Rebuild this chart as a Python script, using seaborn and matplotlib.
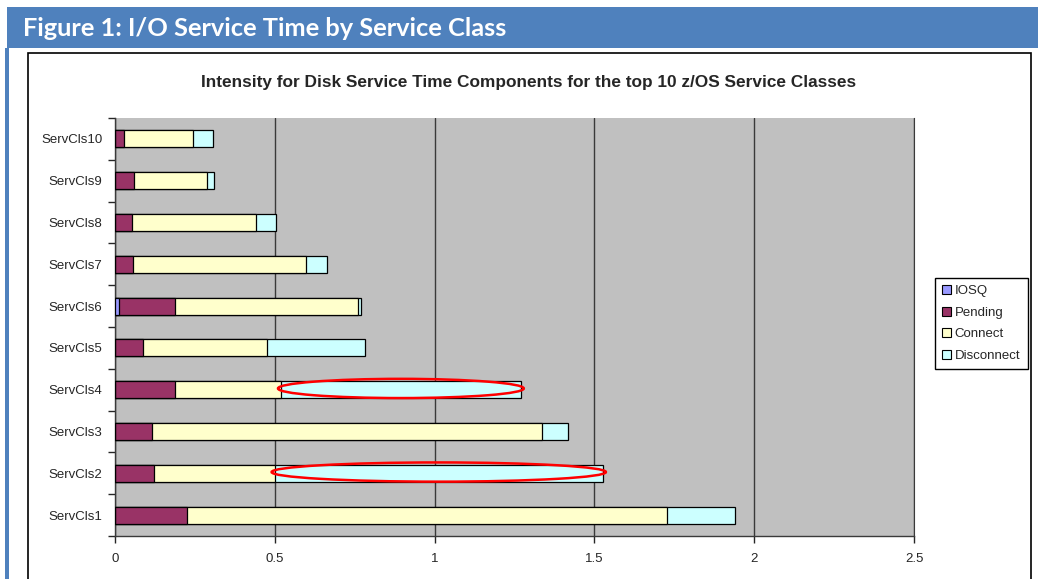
import numpy as np
import pandas as pd
import matplotlib.pyplot as plt
import seaborn as sns
from matplotlib.patches import Patch, Rectangle, Ellipse

# Données (ms)
classes = ['ServCls1', 'ServCls2', 'ServCls3', 'ServCls4', 'ServCls5',
           'ServCls6', 'ServCls7', 'ServCls8', 'ServCls9', 'ServCls10']
iosq = [0, 0, 0, 0, 0, 0.0125, 0, 0, 0, 0]
pending = [0.226, 0.123, 0.115, 0.188, 0.087, 0.176, 0.056, 0.053, 0.059, 0.029]
connect = [1.500, 0.377, 1.221, 0.332, 0.389, 0.573, 0.542, 0.389, 0.228, 0.214]
disconnect = [0.214, 1.026, 0.082, 0.749, 0.305, 0.007, 0.065, 0.062, 0.024, 0.064]
components = ['IOSQ', 'Pending', 'Connect', 'Disconnect']
colors = ['#9999FF', '#993366', '#FFFFCC', '#CCFFFF']
xticks = [0, 0.5, 1, 1.5, 2, 2.5]
xtick_labels = ['0', '0.5', '1', '1.5', '2', '2.5']
highlighted = ['ServCls4', 'ServCls2']

sns.set_style('ticks')
plt.rcParams['font.family'] = ['Liberation Sans', 'DejaVu Sans']

df = pd.DataFrame({'cls': classes, 'IOSQ': iosq, 'Pending': pending,
                   'Connect': connect, 'Disconnect': disconnect})
# cumul pour l'empilement
cum = df[components].cumsum(axis=1)
cum['cls'] = df['cls']
order = classes[::-1]

fig = plt.figure(figsize=(10.38, 5.79), dpi=100)

# bandeau d'en-tête
fig.add_artist(Rectangle((7 / 1038, 1 - 48 / 579), 1, 41 / 579,
                         transform=fig.transFigure, color='#4F81BD', lw=0))
fig.add_artist(Rectangle((5 / 1038, 0), 4 / 1038, 1 - 48 / 579,
                         transform=fig.transFigure, color='#4F81BD', lw=0))
fig.text(23 / 1038, 1 - 28 / 579, 'Figure 1: I/O Service Time by Service Class',
         color='white', fontsize=18.3, fontweight='bold', family='Lato',
         va='center', ha='left')
# cadre du graphique
fig.add_artist(Rectangle((28 / 1038, -0.05), (1031 - 28) / 1038, 1.05 - 53 / 579,
                         transform=fig.transFigure, fill=False,
                         edgecolor='black', lw=1.2))

ax = fig.add_axes([115 / 1038, 1 - 536 / 579, (914 - 115) / 1038, (536 - 118) / 579])
ax.set_facecolor('#C0C0C0')

# barres empilées : du cumul le plus long au plus court
for comp, col in zip(components[::-1], colors[::-1]):
    sns.barplot(data=cum, x=comp, y='cls', order=order, color=col,
                saturation=1, edgecolor='black', linewidth=0.9, width=0.41,
                errorbar=None, ax=ax, zorder=3)

# ellipses rouges sur le segment Disconnect
for name in highlighted:
    i = classes.index(name)
    start = cum.loc[i, 'Connect']
    end = cum.loc[i, 'Disconnect']
    ax.add_patch(Ellipse(((start + end) / 2, order.index(name) - 0.03),
                         end - start + 0.02, 0.46, fill=False,
                         edgecolor='red', lw=1.8, zorder=5))

ax.set_xlim(0, 2.5)
ax.set_ylim(9.5, -0.5)
ax.set_xticks(xticks, xtick_labels)
ax.set_xlabel('')
ax.set_ylabel('')
ax.xaxis.grid(True, color='#3A3A3A', lw=1)
ax.set_axisbelow(True)
ax.set_yticks(np.arange(-0.5, 10, 1), minor=True)
ax.tick_params(axis='x', direction='out', length=5, width=1, labelsize=9.5, pad=7)
ax.tick_params(axis='y', which='major', length=0, labelsize=9.5, pad=9)
ax.tick_params(axis='y', which='minor', direction='out', length=5, width=1)
for s in ['left', 'bottom']:
    ax.spines[s].set_color('#3A3A3A')
    ax.spines[s].set_linewidth(1)
ax.spines['top'].set_visible(False)
ax.spines['right'].set_color('#3A3A3A')

fig.text(529 / 1038, 1 - 82 / 579,
         'Intensity for Disk Service Time Components for the top 10 z/OS Service Classes',
         fontsize=12.4, fontweight='bold', ha='center', va='center')

handles = [Patch(facecolor=c, edgecolor='black', lw=0.8, label=l)
           for c, l in zip(colors, components)]
fig.legend(handles=handles, loc='upper left',
           bbox_to_anchor=(935 / 1038, 1 - 278 / 579), fontsize=9.5,
           frameon=True, fancybox=False, edgecolor='black', framealpha=1,
           handlelength=0.65, handleheight=0.65, handletextpad=0.3,
           labelspacing=0.72, borderpad=0.55, borderaxespad=0)

fig.savefig('out.png', dpi=100)
